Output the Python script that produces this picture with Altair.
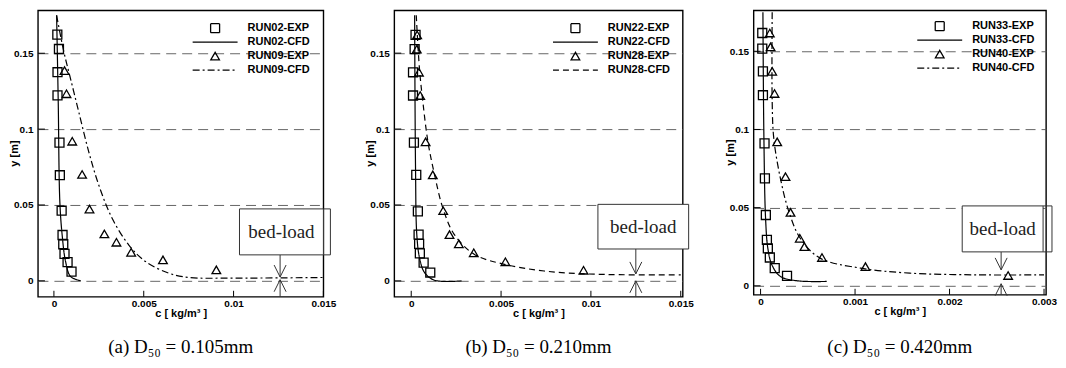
import altair as alt
import pandas as pd

# ---------------- shared ----------------
y_ticks = [0, 0.05, 0.1, 0.15]
y_labels = ["0", "0.05", "0.1", "0.15"]

# ---------------- panel (a): D50 = 0.105 mm ----------------
a_names = ["RUN02-EXP", "RUN02-CFD", "RUN09-EXP", "RUN09-CFD"]
a_exp1_c = [0.00019, 0.00028, 0.0002, 0.0002, 0.00031, 0.00033, 0.00043, 0.00048, 0.00052, 0.00059, 0.00076, 0.00098]
a_exp1_y = [0.1623, 0.1528, 0.1375, 0.1222, 0.0911, 0.0696, 0.0462, 0.0302, 0.0241, 0.0177, 0.0123, 0.0061]
a_cfd1_c = [0.00015, 0.00024, 0.00033, 0.00046, 0.00065, 0.00093, 0.0015]
a_cfd1_y = [0.175, 0.118, 0.052, 0.030, 0.0127, 0.0028, 0.0]
a_exp2_c = [0.00059, 0.0007, 0.00102, 0.00157, 0.00198, 0.00281, 0.00348, 0.0043, 0.00607, 0.00904]
a_exp2_y = [0.1386, 0.1233, 0.092, 0.0701, 0.0473, 0.0309, 0.0254, 0.0188, 0.0138, 0.0072]
a_cfd2_c = [0.00015, 0.00056, 0.00093, 0.00139, 0.00194, 0.0025, 0.00324, 0.00417, 0.0051, 0.0064, 0.0075, 0.0101, 0.015]
a_cfd2_y = [0.175, 0.1506, 0.133, 0.111, 0.085, 0.063, 0.0412, 0.0236, 0.0127, 0.005, 0.0022, 0.0018, 0.0022]
a_x_ticks = [0, 0.005, 0.01, 0.015]
a_x_labels = ["0", "0.005", "0.01", "0.015"]
a_caption = "(a) D₅₀ = 0.105mm"

# ---------------- panel (b): D50 = 0.210 mm ----------------
b_names = ["RUN22-EXP", "RUN22-CFD", "RUN28-EXP", "RUN28-CFD"]
b_exp1_c = [0.00024, 0.00019, 0.0001, 0.0001, 0.00015, 0.00028, 0.00037, 0.00041, 0.00044, 0.00048, 0.00069, 0.00106]
b_exp1_y = [0.162, 0.1526, 0.1374, 0.1221, 0.0911, 0.0698, 0.0458, 0.0305, 0.0244, 0.0181, 0.012, 0.0055]
b_cfd1_c = [0.00019, 0.00024, 0.00031, 0.00046, 0.00074, 0.0013, 0.0028]
b_cfd1_y = [0.175, 0.074, 0.0305, 0.0153, 0.0055, 0.0004, 0.0]
b_exp2_c = [0.00033, 0.00031, 0.00043, 0.0005, 0.0008, 0.0012, 0.00178, 0.00213, 0.00265, 0.00348, 0.00524, 0.00959]
b_exp2_y = [0.162, 0.1526, 0.1374, 0.1221, 0.0916, 0.0698, 0.0462, 0.0305, 0.0244, 0.0185, 0.0126, 0.007]
b_cfd2_c = [0.00028, 0.00046, 0.00065, 0.00093, 0.0013, 0.00176, 0.0024, 0.00352, 0.00519, 0.0074, 0.0102, 0.015]
b_cfd2_y = [0.175, 0.1395, 0.1177, 0.0916, 0.0698, 0.048, 0.0305, 0.0174, 0.0109, 0.0065, 0.0044, 0.0039]
b_x_ticks = [0, 0.005, 0.01, 0.015]
b_x_labels = ["0", "0.005", "0.01", "0.015"]
b_caption = "(b) D₅₀ = 0.210mm"

# ---------------- panel (c): D50 = 0.420 mm ----------------
c_names = ["RUN33-EXP", "RUN33-CFD", "RUN40-EXP", "RUN40-CFD"]
c_exp1_c = [0.000018, 0.000018, 0.000025, 0.000025, 0.000042, 0.000046, 0.000056, 0.000067, 0.000077, 0.000098, 0.00015, 0.00028]
c_exp1_y = [0.1617, 0.1517, 0.1372, 0.1219, 0.0911, 0.0687, 0.0453, 0.0294, 0.024, 0.0181, 0.0113, 0.0064]
c_cfd1_c = [0.000025, 0.000035, 0.000053, 0.000077, 0.00012, 0.00021, 0.00039, 0.0007]
c_cfd1_y = [0.175, 0.0964, 0.0432, 0.024, 0.0134, 0.006, 0.0032, 0.0028]
c_exp2_c = [0.000098, 0.000106, 0.000123, 0.000148, 0.000176, 0.000264, 0.000317, 0.000415, 0.000464, 0.00065, 0.00111, 0.00262]
c_exp2_y = [0.1617, 0.1528, 0.1372, 0.123, 0.0921, 0.0698, 0.047, 0.0304, 0.0251, 0.0181, 0.0123, 0.0066]
c_cfd2_c = [0.000123, 0.000123, 0.00014, 0.00021, 0.0003, 0.00042, 0.00063, 0.00106, 0.00158, 0.00229, 0.003]
c_cfd2_y = [0.175, 0.1177, 0.0943, 0.0687, 0.0474, 0.0304, 0.0177, 0.0113, 0.0081, 0.007, 0.007]
c_x_ticks = [0, 0.001, 0.002, 0.003]
c_x_labels = ["0", "0.001", "0.002", "0.003"]
c_caption = "(c) D₅₀ = 0.420mm"

# ---------------- "bed-load" annotations (data coordinates) ----------------
a_box_c, a_box_y = [0.01033, 0.015], [0.0171, 0.0474]
b_box_c, b_box_y = [0.01039, 0.01544], [0.021, 0.0504]
c_box_c, c_box_y = [0.002134, 0.00299], [0.0217, 0.0511]
a_bracket_c, c_bracket_c = 0.01539, 0.003084
a_arrow = [0.01259, 0.0025, 0.0007]   # x, down-arrow tip, up-arrow tip
b_arrow = [0.0125, 0.0046, 0.0]
c_arrow = [0.002546, 0.0102, 0.0013]

FONT = "Liberation Sans"


def label_expr(values, labels):
    parts = " : ".join(
        f"abs(datum.value - {v}) < 1e-9 ? '{l}'" for v, l in zip(values, labels)
    )
    return parts + " : ''"


def panel(names, series, x_ticks, x_labels, xdom, ydom, width, height, dash2,
          leg_x, leg_y, box_c, box_y, bracket_c, arrow, caption, cap_offset):
    (e1c, e1y), (l1c, l1y), (e2c, e2y), (l2c, l2y) = series
    pts = pd.concat([
        pd.DataFrame({"c": e1c, "y": e1y, "series": names[0]}),
        pd.DataFrame({"c": e2c, "y": e2y, "series": names[2]}),
    ])
    lines = pd.concat([
        pd.DataFrame({"c": l1c, "y": l1y, "series": names[1], "idx": range(len(l1c))}),
        pd.DataFrame({"c": l2c, "y": l2y, "series": names[3], "idx": range(len(l2c))}),
    ])

    xs = alt.Scale(domain=xdom, nice=False, zero=False)
    ys = alt.Scale(domain=ydom, nice=False, zero=False)
    xenc = alt.X("c:Q", scale=xs, axis=alt.Axis(
        values=x_ticks, labelExpr=label_expr(x_ticks, x_labels), title="c [ kg/m³ ]",
        grid=False, ticks=False, tickSize=0, domain=False, labelPadding=2,
        labelFlush=False, labelOverlap=False, titlePadding=-1))
    yenc = alt.Y("y:Q", scale=ys, axis=alt.Axis(
        values=y_ticks, labelExpr=label_expr(y_ticks, y_labels), title=None, grid=True,
        gridDash=[10, 6], gridColor="#555555", gridWidth=0.9, ticks=False, tickSize=0,
        domain=False, labelPadding=5, labelOverlap=False))

    leg = alt.Legend(title=None, orient="none", legendX=leg_x, legendY=leg_y,
                     clipHeight=13.7, rowPadding=0, padding=0, labelOffset=9,
                     labelFont=FONT, labelFontSize=11, labelFontWeight="bold",
                     labelColor="black", symbolStrokeColor="black",
                     symbolStrokeWidth=1.3, symbolFillColor="transparent")
    shape = alt.Shape("series:N", scale=alt.Scale(
        domain=names, range=["square", "stroke", "triangle-up", "stroke"]), legend=leg)
    size = alt.Size("series:N", scale=alt.Scale(
        type="ordinal", domain=names, range=[81, 2025, 75, 2025]), legend=leg)
    dash = alt.StrokeDash("series:N", scale=alt.Scale(
        domain=names, range=[[1, 0], [1, 0], [1, 0], dash2]), legend=leg)

    line_layer = alt.Chart(lines).mark_line(
        color="black", strokeWidth=1.2, interpolate="catmull-rom").encode(
        x=xenc, y=yenc, strokeDash=dash, order="idx:Q")
    point_layer = alt.Chart(pts).mark_point(
        filled=False, color="black", strokeWidth=1.3, opacity=1).encode(
        x=xenc, y=yenc, shape=shape, size=size)

    # inward ticks
    ytick_layer = alt.Chart(pd.DataFrame({"y": y_ticks})).mark_rule(
        color="black", strokeWidth=1).encode(y=yenc, x=alt.value(0), x2=alt.value(7))
    xtick_layer = alt.Chart(pd.DataFrame({"c": x_ticks})).mark_rule(
        color="black", strokeWidth=1).encode(x=xenc, y=alt.value(height), y2=alt.value(height - 6))

    # y-axis title as text, placed close to the labels as in the original
    ytitle = alt.Chart(pd.DataFrame({"t": ["y [m]"]})).mark_text(
        font=FONT, fontSize=11, fontWeight="bold", angle=270, color="black",
        baseline="middle", align="center").encode(
        text="t:N", x=alt.value(-23), y=alt.value(height / 2))

    # bed-load box
    box = pd.DataFrame({"c": [box_c[0]], "c2": [box_c[1]], "y": [box_y[0]], "y2": [box_y[1]]})
    box_layer = alt.Chart(box).mark_rect(fill="white", stroke="#333333", strokeWidth=1).encode(
        x=xenc, x2="c2:Q", y=yenc, y2="y2:Q")
    txt = pd.DataFrame({"c": [(box_c[0] + box_c[1]) / 2], "y": [(box_y[0] + box_y[1]) / 2],
                        "t": ["bed-load"]})
    txt_layer = alt.Chart(txt).mark_text(font="Liberation Serif", fontSize=19,
                                         color="#222222").encode(x=xenc, y=yenc, text="t:N")

    ax, tip_dn, tip_up = arrow
    segs = [
        dict(c=ax, c2=ax, y=box_y[0], y2=tip_dn),
        dict(c=ax, c2=ax, y=ydom[0], y2=tip_up),
    ]
    if bracket_c is not None:
        segs += [
            dict(c=bracket_c, c2=bracket_c, y=box_y[0], y2=box_y[1]),
            dict(c=box_c[1], c2=bracket_c, y=box_y[1], y2=box_y[1]),
            dict(c=box_c[1], c2=bracket_c, y=box_y[0], y2=box_y[0]),
        ]
    seg_layer = alt.Chart(pd.DataFrame(segs)).mark_rule(color="#333333", strokeWidth=1).encode(
        x=xenc, x2="c2:Q", y=yenc, y2="y2:Q")
    head_dn = alt.Chart(pd.DataFrame({"c": [ax], "y": [tip_dn]})).mark_point(
        shape="M-1,-2L0,0L1,-2", size=144, filled=False, color="#333333",
        strokeWidth=1, opacity=1).encode(x=xenc, y=yenc)
    head_up = alt.Chart(pd.DataFrame({"c": [ax], "y": [tip_up]})).mark_point(
        shape="M-1,2L0,0L1,2", size=144, filled=False, color="#333333",
        strokeWidth=1, opacity=1).encode(x=xenc, y=yenc)

    return alt.layer(
        ytick_layer, xtick_layer, line_layer, point_layer,
        seg_layer, box_layer, txt_layer, head_dn, head_up, ytitle,
    ).properties(
        width=width, height=height,
        view=alt.ViewBackground(stroke="black", strokeWidth=1.4, fill="white"),
        title=alt.TitleParams(text=caption, orient="bottom", anchor="middle", frame="group",
                              font="Liberation Serif", fontSize=19, fontWeight="normal",
                              color="black", offset=cap_offset),
    )


pa = panel(a_names, [(a_exp1_c, a_exp1_y), (a_cfd1_c, a_cfd1_y), (a_exp2_c, a_exp2_y), (a_cfd2_c, a_cfd2_y)],
           a_x_ticks, a_x_labels, [-0.000889, 0.015], [-0.01053, 0.1783], 286, 287, [7, 3, 2, 3],
           154, 11, a_box_c, a_box_y, a_bracket_c, a_arrow, a_caption, 19)
pb = panel(b_names, [(b_exp1_c, b_exp1_y), (b_cfd1_c, b_cfd1_y), (b_exp2_c, b_exp2_y), (b_cfd2_c, b_cfd2_y)],
           b_x_ticks, b_x_labels, [-0.000944, 0.01511], [-0.01048, 0.1782], 289, 287, [6, 4],
           158, 11, b_box_c, b_box_y, None, b_arrow, b_caption, 19)
pc = panel(c_names, [(c_exp1_c, c_exp1_y), (c_cfd1_c, c_cfd1_y), (c_exp2_c, c_exp2_y), (c_cfd2_c, c_cfd2_y)],
           c_x_ticks, c_x_labels, [-0.0000739, 0.003021], [-0.00574, 0.1762], 293, 285, [7, 3, 2, 3],
           163, 9, c_box_c, c_box_y, c_bracket_c, c_arrow, c_caption, 21)

chart = alt.hconcat(pa, pb, pc, spacing=71, bounds="flush").resolve_scale(
    x="independent", y="independent", shape="independent", size="independent",
    strokeDash="independent").properties(padding=0).configure_view(
    stroke="black", strokeWidth=1.4).configure_axis(
    labelFont=FONT, labelFontSize=10, labelFontWeight="bold", labelColor="black",
    titleFont=FONT, titleFontSize=11, titleFontWeight="bold", titleColor="black",
)

chart.save("out.html", embed_options={"renderer": "svg", "actions": False})
